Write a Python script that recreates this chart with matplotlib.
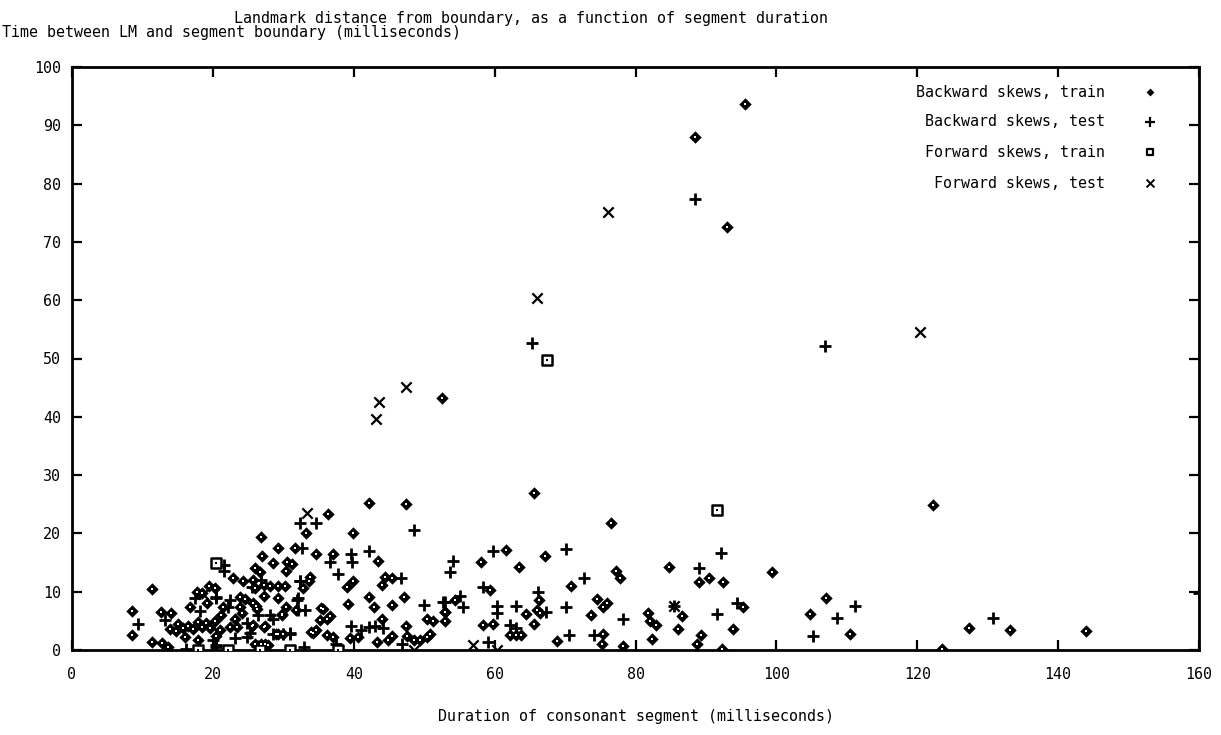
import matplotlib
matplotlib.use("Agg")
import matplotlib.pyplot as plt

# Backward skews, train (duration ms, distance ms)
bw_train_x = [95.5, 88.5, 93.0, 52.5, 65.6, 122.3, 42.2, 47.4, 36.3, 76.5, 39.9, 33.2, 26.8,
              29.3, 31.7, 34.6, 37.1, 43.5, 27.0, 30.5, 31.2, 28.5, 26.0, 26.7, 44.4, 45.4,
              39.9, 39.0, 44.0, 33.7, 32.8, 28.1, 29.3, 30.2, 26.0, 27.2, 29.3, 42.2, 39.2,
              42.9, 45.5, 47.1, 26.1, 30.4, 31.8, 35.3, 35.7, 53.0, 29.8, 35.2, 36.2, 36.6,
              44.0, 50.4, 51.3, 25.5, 27.4, 47.4, 34.2, 29.3, 36.2, 37.1, 39.4, 40.6, 43.3,
              44.9, 45.5, 47.5, 48.5, 49.4, 50.4, 50.8, 26.9, 27.4,
              61.6, 58.0, 63.4, 67.2, 77.2, 77.8, 70.9, 59.3, 66.3, 54.4, 64.5, 66.0, 66.4,
              74.5, 75.4, 75.9, 73.7, 53.0, 53.0, 65.6, 58.4, 59.7, 62.2, 63.1, 63.8, 68.9,
              75.4, 75.2, 78.2,
              84.8, 99.4, 89.0, 90.4, 92.4, 81.8, 86.6, 95.3, 82.0, 82.9, 86.0, 93.8, 82.3,
              89.3, 88.7, 104.8, 107.1, 92.3,
              110.5, 127.4, 133.1, 144.0, 123.5,
              11.3, 8.5, 8.5, 11.3, 13.7, 12.7, 14.1, 16.7, 19.4, 20.3, 19.1, 17.8, 18.4,
              15.1, 15.8, 16.5, 17.2, 17.9, 18.5, 19.0, 19.6, 20.3, 14.8, 13.9, 16.0, 17.9,
              12.8,
              22.9, 24.3, 25.7, 27.2, 23.9, 24.6, 21.5, 21.2, 23.9, 24.1, 25.7, 26.2, 29.8,
              23.1, 22.4, 23.4, 25.7, 27.2, 29.0, 30.0, 34.0, 34.7, 20.5, 26.0, 27.8, 21.0,
              30.4, 33.8]
bw_train_y = [93.7, 88.0, 72.5, 43.2, 27.0, 24.9, 25.3, 25.0, 23.3, 21.7, 20.0, 20.0, 19.3,
              17.5, 17.5, 16.5, 16.5, 15.3, 16.1, 15.1, 14.7, 15.0, 14.0, 13.3, 12.6, 12.4,
              11.8, 10.8, 11.1, 11.8, 10.7, 11.0, 11.0, 11.0, 10.6, 9.3, 8.9, 9.1, 7.9,
              7.4, 7.7, 9.1, 7.5, 7.3, 6.9, 7.2, 7.0, 6.5, 6.2, 5.1, 5.4, 5.8,
              5.4, 5.4, 4.9, 4.1, 4.1, 4.2, 3.0, 2.8, 2.6, 2.3, 2.1, 2.2, 1.3,
              1.8, 2.4, 2.4, 1.8, 1.7, 2.3, 2.7, 1.1, 1.0,
              17.2, 15.1, 14.2, 16.1, 13.6, 12.3, 10.9, 10.3, 8.6, 8.6, 6.2, 6.9, 6.4,
              8.7, 7.4, 8.1, 6.0, 6.6, 4.9, 4.5, 4.3, 4.5, 2.6, 2.6, 2.6, 1.6,
              2.7, 1.1, 0.7,
              14.3, 13.4, 11.7, 12.3, 11.7, 6.3, 5.9, 7.3, 4.9, 4.3, 3.6, 3.6, 1.9,
              2.5, 1.0, 6.1, 9.0, 0.2,
              2.7, 3.7, 3.4, 3.3, 0.2,
              10.4, 6.7, 2.6, 1.3, 0.6, 6.6, 6.3, 7.3, 10.9, 10.6, 8.0, 10.0, 9.8,
              4.5, 3.8, 4.2, 3.6, 4.8, 4.0, 4.7, 3.8, 5.0, 3.2, 3.6, 2.3, 1.7,
              1.2,
              12.3, 11.8, 12.0, 11.2, 9.1, 8.7, 7.4, 6.0, 7.4, 6.3, 8.0, 7.1, 6.0,
              5.4, 4.0, 4.0, 4.3, 4.0, 2.7, 2.7, 3.1, 3.4, 2.4, 1.0, 0.8, 3.5,
              13.6, 12.5]

# Backward skews, test
bw_test_x = [88.4, 65.3, 106.9, 48.6, 42.1, 34.7, 32.3, 32.7, 39.6, 36.6, 39.8, 37.8, 46.7,
             32.4, 32.1, 50.0, 52.7, 26.4, 28.1, 28.6, 39.6, 42.1, 43.0, 44.2, 30.9, 30.0,
             28.5, 26.2, 46.8, 41.0, 37.5, 33.0,
             70.2, 59.7, 54.1, 53.6, 72.7, 58.4, 66.1, 53.0, 55.1, 55.5, 60.3, 60.3, 63.0,
             67.3, 70.2, 78.2, 62.2, 63.1, 70.5, 74.1, 59.1,
             92.1, 89.0, 85.4, 94.4, 91.5, 105.2,
             108.6, 111.2, 130.7, 160.0,
             9.4, 13.2, 18.2, 20.5, 21.6, 21.6, 20.0, 20.5, 16.2, 22.4, 22.2, 26.9, 25.5,
             20.5, 24.8, 25.3, 23.1, 24.8, 31.9, 32.1, 33.1, 32.4, 31.0, 20.5, 17.5]
bw_test_y = [77.4, 52.7, 52.1, 20.6, 16.9, 21.7, 21.7, 17.5, 16.5, 15.1, 15.1, 13.0, 12.3,
             11.9, 8.9, 7.7, 8.3, 6.0, 6.0, 5.3, 4.2, 4.0, 4.2, 3.7, 3.0, 2.7,
             2.7, 0.7, 1.0, 3.5, 1.0, 0.5,
             17.3, 16.9, 15.2, 13.3, 12.3, 10.8, 10.0, 8.3, 9.3, 7.4, 7.5, 6.3, 7.5,
             6.6, 7.4, 5.4, 4.3, 3.7, 2.6, 2.6, 1.4,
             16.7, 14.0, 7.5, 8.0, 6.1, 2.4,
             5.5, 7.5, 5.5, 9.8,
             4.4, 5.1, 6.7, 9.1, 14.6, 13.6, 1.7, 0.6, 0.2, 8.6, 7.4, 12.0, 10.8,
             8.9, 4.6, 2.9, 2.0, 2.3, 8.6, 6.9, 6.9, 11.8, 2.7, 0.9, 9.0]

# Forward skews, train
fw_train_x = [20.4, 67.5, 91.6, 17.9, 22.1, 26.7, 30.9, 37.8]
fw_train_y = [15.0, 49.8, 24.0, 0.0, 0.0, 0.0, 0.0, 0.0]

# Forward skews, test
fw_test_x = [76.1, 66.0, 120.4, 47.4, 43.6, 43.2, 33.4, 18.6, 48.5, 57.0, 60.3, 85.4]
fw_test_y = [75.1, 60.4, 54.5, 45.1, 42.5, 39.6, 23.5, 9.6, 0.0, 0.9, 0.0, 7.5]

x_ticks = [0, 20, 40, 60, 80, 100, 120, 140, 160]
y_ticks = [0, 10, 20, 30, 40, 50, 60, 70, 80, 90, 100]

series_labels = ["Backward skews, train", "Backward skews, test",
                 "Forward skews, train", "Forward skews, test"]

FONT = "DejaVu Sans Mono"
FS = 10.8

fig = plt.figure(figsize=(12.21, 7.35), dpi=100)
ax = fig.add_axes([72 / 1221, 1 - 650 / 735, 1127 / 1221, 583 / 735])

ax.set_xlim(0, 160)
ax.set_ylim(0, 100)

# point styles
ax.scatter(bw_train_x, bw_train_y, marker="D", s=40, c="black", linewidths=0, zorder=3)
ax.scatter(bw_train_x, bw_train_y, marker="s", s=1.2, c="white", linewidths=0, zorder=4)
ax.scatter(bw_test_x, bw_test_y, marker="+", s=75, c="black", linewidths=2.0, zorder=3)
ax.scatter(fw_train_x, fw_train_y, marker="s", s=48, facecolors="white",
           edgecolors="black", linewidths=1.8, zorder=3)
ax.scatter(fw_train_x, fw_train_y, marker="s", s=2, c="black", linewidths=0, zorder=4)
ax.scatter(fw_test_x, fw_test_y, marker="x", s=55, c="black", linewidths=1.6, zorder=3)

ax.set_xticks(x_ticks)
ax.set_yticks(y_ticks)
ax.set_xticklabels([str(v) for v in x_ticks], fontfamily=FONT, fontsize=FS)
ax.set_yticklabels([str(v) for v in y_ticks], fontfamily=FONT, fontsize=FS)
ax.tick_params(direction="in", length=7, width=1.6, top=True, right=True,
               pad=12, labelsize=FS)
ax.tick_params(axis="y", pad=8)
for sp in ax.spines.values():
    sp.set_linewidth(2.0)

# legend drawn as text with sample markers
leg_y = [0.957, 0.906, 0.854, 0.801]
for lab, yy in zip(series_labels, leg_y):
    ax.text(0.9166, yy, lab, transform=ax.transAxes, ha="right", va="center",
            fontfamily=FONT, fontsize=FS)
mx = 0.9565
ax.scatter([mx], [leg_y[0]], marker="D", s=16, c="black", transform=ax.transAxes,
           clip_on=False, linewidths=0)
ax.scatter([mx], [leg_y[1]], marker="+", s=45, c="black", transform=ax.transAxes,
           clip_on=False, linewidths=1.6)
ax.scatter([mx], [leg_y[2]], marker="s", s=24, facecolors="white", edgecolors="black",
           transform=ax.transAxes, clip_on=False, linewidths=1.6)
ax.scatter([mx], [leg_y[3]], marker="x", s=32, c="black", transform=ax.transAxes,
           clip_on=False, linewidths=1.4)

fig.text(531 / 1221, 1 - 19 / 735, "Landmark distance from boundary, as a function of segment duration",
         ha="center", va="center", fontfamily=FONT, fontsize=FS)
fig.text(2 / 1221, 1 - 33 / 735, "Time between LM and segment boundary (milliseconds)",
         ha="left", va="center", fontfamily=FONT, fontsize=FS)
fig.text(636 / 1221, 1 - 716 / 735, "Duration of consonant segment (milliseconds)",
         ha="center", va="center", fontfamily=FONT, fontsize=FS)

fig.savefig("out.png", dpi=100, facecolor="white")
